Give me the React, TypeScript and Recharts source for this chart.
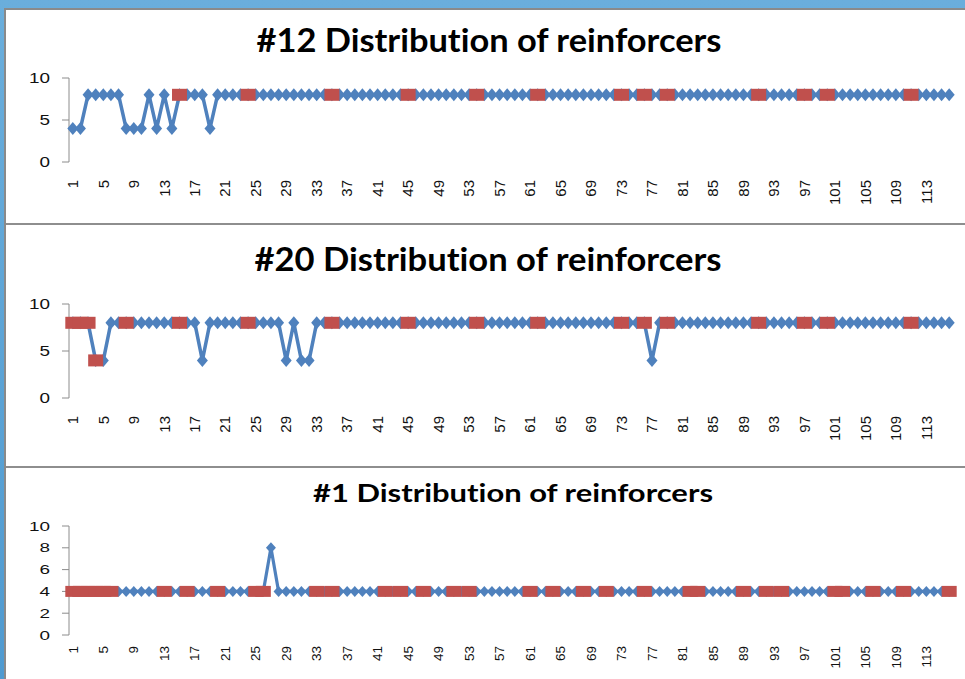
import React from "react";
import { LineChart, Line, XAxis, YAxis } from "recharts";

// categories 1..116 along the x axis
const categories = Array.from({ length: 116 }, (_, i) => i + 1);
const xLabelTicks = [1, 5, 9, 13, 17, 21, 25, 29, 33, 37, 41, 45, 49, 53, 57, 61, 65, 69, 73, 77, 81, 85, 89, 93, 97, 101, 105, 109, 113];
const boundaryTicks = Array.from({ length: 117 }, (_, i) => i + 0.5);

// #12
const blue12 = [
  4, 4, 8, 8, 8, 8, 8, 4, 4, 4, 8, 4, 8, 4, 8, 8, 8, 8, 4, 8,
  8, 8, 8, 8, 8, 8, 8, 8, 8, 8, 8, 8, 8, 8, 8, 8, 8, 8, 8, 8,
  8, 8, 8, 8, 8, 8, 8, 8, 8, 8, 8, 8, 8, 8, 8, 8, 8, 8, 8, 8,
  8, 8, 8, 8, 8, 8, 8, 8, 8, 8, 8, 8, 8, 8, 8, 8, 8, 8, 8, 8,
  8, 8, 8, 8, 8, 8, 8, 8, 8, 8, 8, 8, 8, 8, 8, 8, 8, 8, 8, 8,
  8, 8, 8, 8, 8, 8, 8, 8, 8, 8, 8, 8, 8, 8, 8, 8,
];
const red12Cats = [15, 24, 35, 45, 54, 62, 73, 76, 79, 91, 97, 100, 111];
const red12Vals = [8, 8, 8, 8, 8, 8, 8, 8, 8, 8, 8, 8, 8];

// #20
const blue20 = [
  8, 8, 8, 4, 4, 8, 8, 8, 8, 8, 8, 8, 8, 8, 8, 8, 8, 4, 8, 8,
  8, 8, 8, 8, 8, 8, 8, 8, 4, 8, 4, 4, 8, 8, 8, 8, 8, 8, 8, 8,
  8, 8, 8, 8, 8, 8, 8, 8, 8, 8, 8, 8, 8, 8, 8, 8, 8, 8, 8, 8,
  8, 8, 8, 8, 8, 8, 8, 8, 8, 8, 8, 8, 8, 8, 8, 8, 4, 8, 8, 8,
  8, 8, 8, 8, 8, 8, 8, 8, 8, 8, 8, 8, 8, 8, 8, 8, 8, 8, 8, 8,
  8, 8, 8, 8, 8, 8, 8, 8, 8, 8, 8, 8, 8, 8, 8, 8,
];
const red20Cats = [1, 2, 3, 4, 8, 15, 24, 35, 45, 54, 62, 73, 76, 79, 91, 97, 100, 111];
const red20Vals = [8, 8, 8, 4, 8, 8, 8, 8, 8, 8, 8, 8, 8, 8, 8, 8, 8, 8];

// #1
const blue1 = [
  4, 4, 4, 4, 4, 4, 4, 4, 4, 4, 4, 4, 4, 4, 4, 4, 4, 4, 4, 4,
  4, 4, 4, 4, 4, 4, 8, 4, 4, 4, 4, 4, 4, 4, 4, 4, 4, 4, 4, 4,
  4, 4, 4, 4, 4, 4, 4, 4, 4, 4, 4, 4, 4, 4, 4, 4, 4, 4, 4, 4,
  4, 4, 4, 4, 4, 4, 4, 4, 4, 4, 4, 4, 4, 4, 4, 4, 4, 4, 4, 4,
  4, 4, 4, 4, 4, 4, 4, 4, 4, 4, 4, 4, 4, 4, 4, 4, 4, 4, 4, 4,
  4, 4, 4, 4, 4, 4, 4, 4, 4, 4, 4, 4, 4, 4, 4, 4,
];
const red1Cats = [1, 2, 3, 4, 5, 6, 13, 16, 20, 25, 26, 33, 35, 42, 44, 47, 51, 53, 61, 64, 68, 71, 76, 82, 83, 89, 92, 94, 101, 102, 106, 110, 116];
const red1Vals = red1Cats.map(() => 4);

const BLUE = "#4F81BD";
const RED = "#C0504D";
const AXIS = "#8c8c8c";
const FONT = "'Liberation Sans', Arial, sans-serif";
const TITLE_FONT = "Lato, 'Liberation Sans', sans-serif";

function buildRows(blue: number[], redCats: number[], redVals: number[]) {
  return categories.map((c, i) => {
    const k = redCats.indexOf(c);
    return { cat: c, blue: blue[i], red: k >= 0 ? redVals[k] : null };
  });
}

type PanelProps = {
  top: number;
  height: number;
  marginTop: number;
  marginBottom: number;
  labelHeight: number;
  rows: any[];
  yTicks: number[];
  yFont: number;
  xFont: number;
  xGap: number;
  diamond: [number, number];
  square: [number, number];
  lineWidth: number;
};

const noTick = () => <g />;

function Panel(p: PanelProps) {
  const diamondDot = (props: any) => {
    const { cx, cy, index, value } = props;
    if (value == null || cx == null || cy == null) return <g key={`b-${index}`} />;
    const w = p.diamond[0] / 2;
    const h = p.diamond[1] / 2;
    return (
      <polygon
        key={`b-${index}`}
        points={`${cx},${cy - h} ${cx + w},${cy} ${cx},${cy + h} ${cx - w},${cy}`}
        fill={BLUE}
      />
    );
  };

  const squareDot = (props: any) => {
    const { cx, cy, index, value } = props;
    if (value == null || cx == null || cy == null) return <g key={`r-${index}`} />;
    const [w, h] = p.square;
    return <rect key={`r-${index}`} x={cx - w / 2} y={cy - h / 2} width={w} height={h} fill={RED} />;
  };

  const yTick = (props: any) => {
    const { x, y, payload } = props;
    const s = String(payload.value);
    return (
      <text
        x={x}
        y={y}
        dy="0.36em"
        textAnchor="end"
        fontFamily={FONT}
        fontSize={p.yFont}
        fill="#111"
        textLength={s.length * 10.5}
        lengthAdjust="spacingAndGlyphs"
      >
        {s}
      </text>
    );
  };

  const xTick = (props: any) => {
    const { x, y, payload } = props;
    const ty = y + p.xGap;
    return (
      <text
        x={x}
        y={ty}
        dy="0.35em"
        textAnchor="end"
        transform={`rotate(-90, ${x}, ${ty})`}
        fontFamily={FONT}
        fontSize={p.xFont}
        fill="#111"
      >
        {payload.value}
      </text>
    );
  };

  return (
    <div style={{ position: "absolute", left: 0, top: p.top }}>
      <LineChart
        width={965}
        height={p.height}
        data={p.rows}
        margin={{ top: p.marginTop, right: 12, left: 0, bottom: p.marginBottom }}
      >
        <XAxis
          xAxisId="marks"
          dataKey="cat"
          type="number"
          domain={[0.5, 116.5]}
          ticks={boundaryTicks}
          interval={0}
          height={0}
          tick={noTick}
          tickSize={5}
          tickLine={{ stroke: AXIS }}
          axisLine={{ stroke: AXIS }}
        />
        <XAxis
          xAxisId="labels"
          dataKey="cat"
          type="number"
          domain={[0.5, 116.5]}
          ticks={xLabelTicks}
          interval={0}
          height={p.labelHeight}
          tick={xTick}
          tickSize={0}
          tickMargin={0}
          tickLine={false}
          axisLine={false}
        />
        <YAxis
          type="number"
          domain={[0, 10]}
          ticks={p.yTicks}
          interval={0}
          width={69}
          tickSize={7}
          tickMargin={12}
          tick={yTick}
          tickLine={{ stroke: AXIS }}
          axisLine={{ stroke: AXIS }}
        />
        <Line
          xAxisId="labels"
          type="linear"
          dataKey="blue"
          stroke={BLUE}
          strokeWidth={p.lineWidth}
          dot={diamondDot}
          activeDot={false}
          isAnimationActive={false}
        />
        <Line
          xAxisId="labels"
          type="linear"
          dataKey="red"
          stroke="none"
          dot={squareDot}
          activeDot={false}
          isAnimationActive={false}
        />
      </LineChart>
    </div>
  );
}

const titleStyle = { fontVariantLigatures: "none" as const };

export default function App() {
  return (
    <div
      style={{
        position: "fixed",
        left: 0,
        top: 0,
        width: 965,
        height: 679,
        overflow: "hidden",
        background: "linear-gradient(180deg, #6aaedc, #4f9ad0)",
        fontFamily: FONT,
      }}
    >
      <div
        style={{
          position: "absolute",
          left: 4,
          top: 8,
          right: 0,
          bottom: 0,
          background: "#fff",
          borderLeft: "2px solid #8a8a8a",
          borderTop: "2px solid #8a8a8a",
        }}
      />
      <div style={{ position: "absolute", left: 6, right: 0, top: 223, height: 2, background: "#8e8e8e" }} />
      <div style={{ position: "absolute", left: 6, right: 0, top: 466, height: 2, background: "#8e8e8e" }} />

      <Panel
        top={62}
        height={160}
        marginTop={16}
        marginBottom={10}
        labelHeight={50}
        rows={buildRows(blue12, red12Cats, red12Vals)}
        yTicks={[0, 5, 10]}
        yFont={15}
        xFont={15}
        xGap={18}
        diamond={[11, 13]}
        square={[15, 12]}
        lineWidth={3.5}
      />
      <Panel
        top={290}
        height={170}
        marginTop={14}
        marginBottom={12}
        labelHeight={50}
        rows={buildRows(blue20, red20Cats, red20Vals)}
        yTicks={[0, 5, 10]}
        yFont={15}
        xFont={15}
        xGap={18}
        diamond={[11, 13]}
        square={[15, 12]}
        lineWidth={3.5}
      />
      <Panel
        top={512}
        height={165}
        marginTop={14}
        marginBottom={2}
        labelHeight={40}
        rows={buildRows(blue1, red1Cats, red1Vals)}
        yTicks={[0, 2, 4, 6, 8, 10]}
        yFont={12.5}
        xFont={13.5}
        xGap={11}
        diamond={[10, 11]}
        square={[15, 11]}
        lineWidth={3.2}
      />

      <svg
        width={965}
        height={679}
        style={{ position: "absolute", left: 0, top: 0, pointerEvents: "none" }}
      >
        <text x={489} y={52} style={titleStyle} textAnchor="middle" fontFamily={TITLE_FONT} fontWeight="bold" fontSize={32} fill="#000" textLength={465} lengthAdjust="spacingAndGlyphs">
          #12 Distribution of reinforcers
        </text>
        <text x={488} y={271} style={titleStyle} textAnchor="middle" fontFamily={TITLE_FONT} fontWeight="bold" fontSize={32} fill="#000" textLength={467} lengthAdjust="spacingAndGlyphs">
          #20 Distribution of reinforcers
        </text>
        <text x={513} y={502} style={titleStyle} textAnchor="middle" fontFamily={TITLE_FONT} fontWeight="bold" fontSize={24} fill="#000" textLength={400} lengthAdjust="spacingAndGlyphs">
          #1 Distribution of reinforcers
        </text>
      </svg>
    </div>
  );
}
